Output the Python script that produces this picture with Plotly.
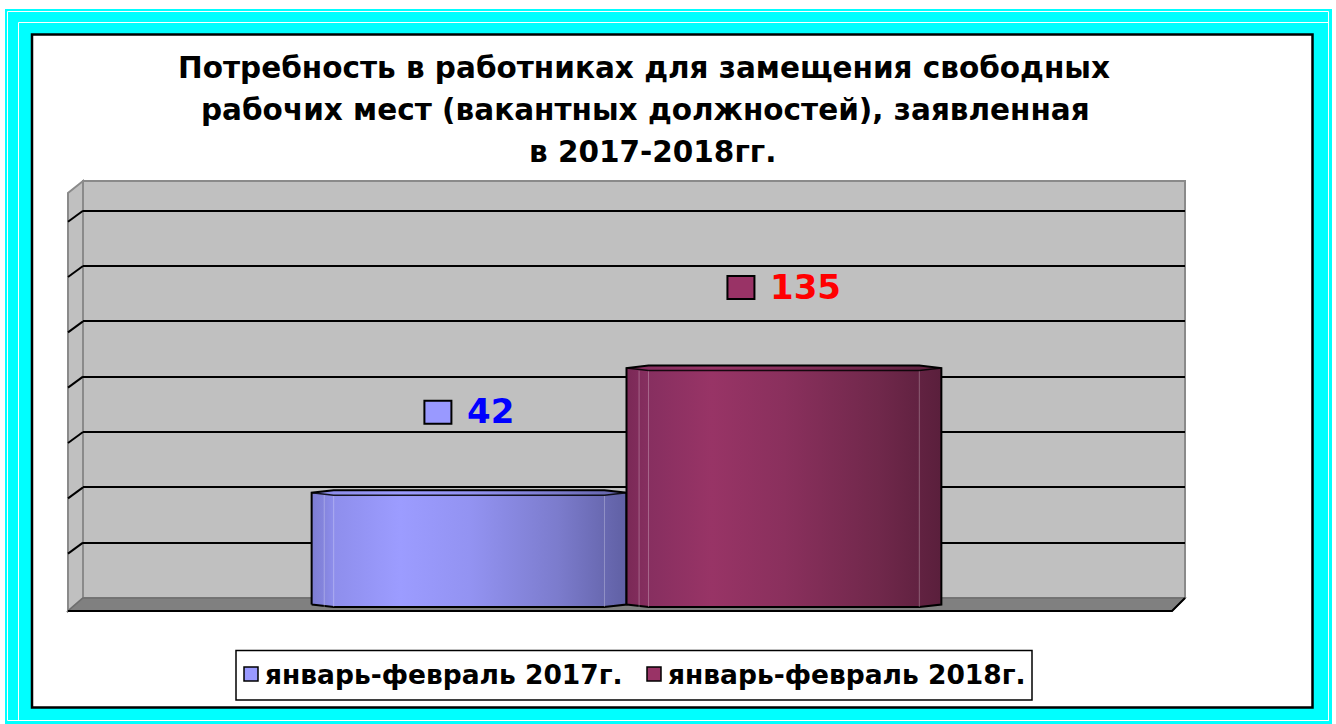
import plotly.graph_objects as go

# ---------------- data ----------------
TITLE_LINES = [
    "Потребность в работниках для замещения свободных",
    "рабочих мест (вакантных должностей), заявленная",
    "в 2017-2018гг.",
]
SERIES = ["январь-февраль 2017г.", "январь-февраль 2018г."]
VALUES = [42, 135]
SERIES_COLORS = ["#9999ff", "#993366"]
LABEL_COLORS = ["#0000ff", "#ff0000"]
GRADIENTS = [
    [[0, "#7c7cd2"], [0.04, "#8585de"], [0.07, "#8e8eec"], [0.28, "#9c9cff"],
     [0.5, "#9393f2"], [0.78, "#7c7ccd"], [1, "#6060a4"]],
    [[0, "#7a2956"], [0.07, "#872f60"], [0.27, "#983466"], [0.5, "#8a305d"],
     [0.8, "#70284b"], [1, "#5a1f3c"]],
]

# ---------------- geometry / style ----------------
W, H = 1336, 724
FONT = "DejaVu Sans, Liberation Sans, Arial, sans-serif"


def px(x):
    return x / W


def py(y):
    return 1 - y / H


Y_MIN = -41.5          # axis floor
GRID = 41.3            # gridline step
N_GRID = 7
GRID_PX = 55.33
S = GRID_PX / GRID     # pixels per unit
BL, BR, BT, BB = 83, 1185, 181, 598   # back wall in pixels
DDX, DDY = 15, 13                     # depth offset (back -> front)
Y_TOP = Y_MIN + (BB - BT) / S
MID_DX, MID_DY = -DDX / 2, DDY / 2
PAD = 12
mid_bottom = BB + MID_DY
y2_lo, y2_hi = Y_MIN - PAD, Y_TOP + PAD
y2_dom = [py(mid_bottom + PAD * S), py(mid_bottom - (y2_hi - Y_MIN) * S)]
x2_dom = [px(BL + MID_DX), px(BR + MID_DX)]
GAP = 1.5
CAP_PX = 2.5

fig = go.Figure()

# dummy trace for back-wall subplot (gridlines)
fig.add_trace(go.Scatter(x=[None], y=[None], xaxis="x", yaxis="y",
                         showlegend=False, hoverinfo="skip"))

n = len(VALUES)
bw = 1 / (n + GAP)
c = CAP_PX / S
for i, v in enumerate(VALUES):
    x0 = -n * bw / 2 + i * bw
    x1 = x0 + bw
    f = 0.07 * bw
    xs = [x0, x0, x0 + f, x1 - f, x1, x1, x1 - f, x0 + f, x0]
    ys = [Y_MIN, v, v + c, v + c, v, Y_MIN, Y_MIN - c, Y_MIN - c, Y_MIN]
    fig.add_trace(go.Scatter(
        x=xs, y=ys, xaxis="x2", yaxis="y2", mode="lines", fill="toself",
        fillgradient=dict(type="horizontal", colorscale=GRADIENTS[i]),
        line=dict(color="black", width=2), showlegend=False, hoverinfo="skip",
        name=SERIES[i]))
    # facet lines
    fx, fy = [], []
    for fr in (0.04, 0.07, 0.93):
        xx = x0 + fr * bw
        fx += [xx, xx, None]
        fy += [v - c, Y_MIN - c, None]
    fig.add_trace(go.Scatter(x=fx, y=fy, xaxis="x2", yaxis="y2", mode="lines",
                             line=dict(color="rgba(255,255,255,0.28)", width=1),
                             showlegend=False, hoverinfo="skip"))
    # front rim of the top
    fig.add_trace(go.Scatter(x=[x0, x0 + f, x1 - f, x1], y=[v, v - c, v - c, v],
                             xaxis="x2", yaxis="y2", mode="lines",
                             line=dict(color="rgba(0,0,0,0.85)", width=1.5),
                             showlegend=False, hoverinfo="skip"))

shapes = []
# cyan frame
shapes.append(dict(type="rect", xref="paper", yref="paper", x0=px(5), x1=px(1332),
                   y0=py(9), y1=py(724), fillcolor="#00ffff", line=dict(width=0),
                   layer="below"))
for (l, t) in ((7.5, 11.5), (18.5, 22.5)):
    shapes.append(dict(type="rect", xref="paper", yref="paper", x0=px(l), x1=px(1328.5),
                       y0=py(t), y1=py(720.5), line=dict(color="white", width=1),
                       layer="below"))
shapes.append(dict(type="rect", xref="paper", yref="paper", x0=px(32), x1=px(1312.5),
                   y0=py(34.5), y1=py(707.5), fillcolor="white",
                   line=dict(color="black", width=2.5), layer="below"))
# back wall
shapes.append(dict(type="rect", xref="paper", yref="paper", x0=px(BL), x1=px(BR),
                   y0=py(BB), y1=py(BT), fillcolor="#c0c0c0",
                   line=dict(color="#8a8a8a", width=2), layer="below"))


def path(pts):
    return "M " + " L ".join(f"{px(a):.6f},{py(b):.6f}" for a, b in pts) + " Z"


# side wall
shapes.append(dict(type="path", xref="paper", yref="paper",
                   path=path([(BL, BT), (BL, BB), (BL - DDX, BB + DDY), (BL - DDX, BT + DDY - 1)]),
                   fillcolor="#c0c0c0", line=dict(color="#8a8a8a", width=2), layer="below"))
# floor
shapes.append(dict(type="path", xref="paper", yref="paper",
                   path=path([(BL, BB), (BR, BB), (BR - DDX + 2, BB + DDY), (BL - DDX, BB + DDY)]),
                   fillcolor="#808080", line=dict(color="#6e6e6e", width=1.5), layer="below"))
shapes.append(dict(type="path", xref="paper", yref="paper",
                   path="M " + " L ".join(f"{px(a):.6f},{py(b):.6f}" for a, b in
                                          [(BL - DDX, BB + DDY), (BR - DDX + 2, BB + DDY), (BR, BB)]),
                   line=dict(color="black", width=2), layer="below"))
# side-wall grid ticks
grid_vals = [Y_MIN + k * GRID for k in range(1, N_GRID + 1)]
for g in grid_vals:
    shapes.append(dict(type="line", xref="paper", yref="y", x0=px(BL - DDX), x1=px(BL),
                       y0=g - (DDY - 2) / S, y1=g, line=dict(color="black", width=2),
                       layer="below"))

# label squares
LABEL_FS = 34
DIGIT_W = 0.696 * LABEL_FS
SQ_W, SQ_H, SQ_GAP = 27, 23, 15
LABEL_UP = 80.5
annotations = []
for i, v in enumerate(VALUES):
    x0 = -n * bw / 2 + i * bw
    cx = x0 + bw / 2
    tw = len(str(v)) * DIGIT_W
    whole = SQ_W + SQ_GAP + tw
    sq_dx = -whole / 2 + SQ_W / 2
    tx_dx = -whole / 2 + SQ_W + SQ_GAP - 1
    shapes.append(dict(type="rect", xref="x2", yref="y2", xsizemode="pixel",
                       ysizemode="pixel", xanchor=cx, yanchor=v,
                       x0=sq_dx - SQ_W / 2, x1=sq_dx + SQ_W / 2,
                       y0=LABEL_UP - SQ_H / 2, y1=LABEL_UP + SQ_H / 2,
                       fillcolor=SERIES_COLORS[i], line=dict(color="black", width=2),
                       layer="above"))
    annotations.append(dict(xref="x2", yref="y2", x=cx, y=v, xanchor="left",
                            yanchor="middle", xshift=tx_dx, yshift=LABEL_UP + 1,
                            text=f"<b>{v}</b>", showarrow=False,
                            font=dict(family=FONT, size=LABEL_FS, color=LABEL_COLORS[i])))

# title
TITLE_FS = 29.5
for k, (line, cxp) in enumerate(zip(TITLE_LINES, (644, 645, 652))):
    annotations.append(dict(xref="paper", yref="paper", x=px(cxp), y=py(68 + 42 * k),
                            xanchor="center", yanchor="middle", text=f"<b>{line}</b>",
                            showarrow=False, font=dict(family=FONT, size=TITLE_FS, color="black")))

# legend (box, keys, texts)
LEG_FS = 26.5
shapes.append(dict(type="rect", xref="paper", yref="paper", x0=px(236), x1=px(1032),
                   y0=py(700), y1=py(650.5), fillcolor="white",
                   line=dict(color="black", width=1.5), layer="below"))
for i, (name, lx) in enumerate(zip(SERIES, (244, 647))):
    shapes.append(dict(type="rect", xref="paper", yref="paper", x0=px(lx), x1=px(lx + 14),
                       y0=py(681), y1=py(667), fillcolor=SERIES_COLORS[i],
                       line=dict(color="black", width=1.5), layer="above"))
    annotations.append(dict(xref="paper", yref="paper", x=px(lx + 19), y=py(674),
                            xanchor="left", yanchor="middle", text=f"<b>{name}</b>",
                            showarrow=False, font=dict(family=FONT, size=LEG_FS, color="black")))

fig.update_layout(
    width=W, height=H, margin=dict(l=0, r=0, t=0, b=0),
    paper_bgcolor="white", plot_bgcolor="rgba(0,0,0,0)",
    showlegend=False,
    xaxis=dict(domain=[px(BL), px(BR)], range=[0, 1], showgrid=False, zeroline=False,
               showticklabels=False, ticks="", showline=False, fixedrange=True),
    yaxis=dict(domain=[py(BB), py(BT)], range=[Y_MIN, Y_TOP], tickmode="array",
               tickvals=grid_vals, showgrid=True, gridcolor="black", gridwidth=2,
               zeroline=False, showticklabels=False, ticks="", showline=False,
               fixedrange=True),
    xaxis2=dict(domain=x2_dom, range=[-0.5, 0.5], anchor="y2", showgrid=False,
                zeroline=False, showticklabels=False, ticks="", showline=False,
                fixedrange=True),
    yaxis2=dict(domain=y2_dom, range=[y2_lo, y2_hi], anchor="x2", showgrid=False,
                zeroline=False, showticklabels=False, ticks="", showline=False,
                fixedrange=True),
    shapes=shapes, annotations=annotations,
)

fig.write_html("out.html", config={"displayModeBar": False},
               post_script="document.body.style.margin='0';")
